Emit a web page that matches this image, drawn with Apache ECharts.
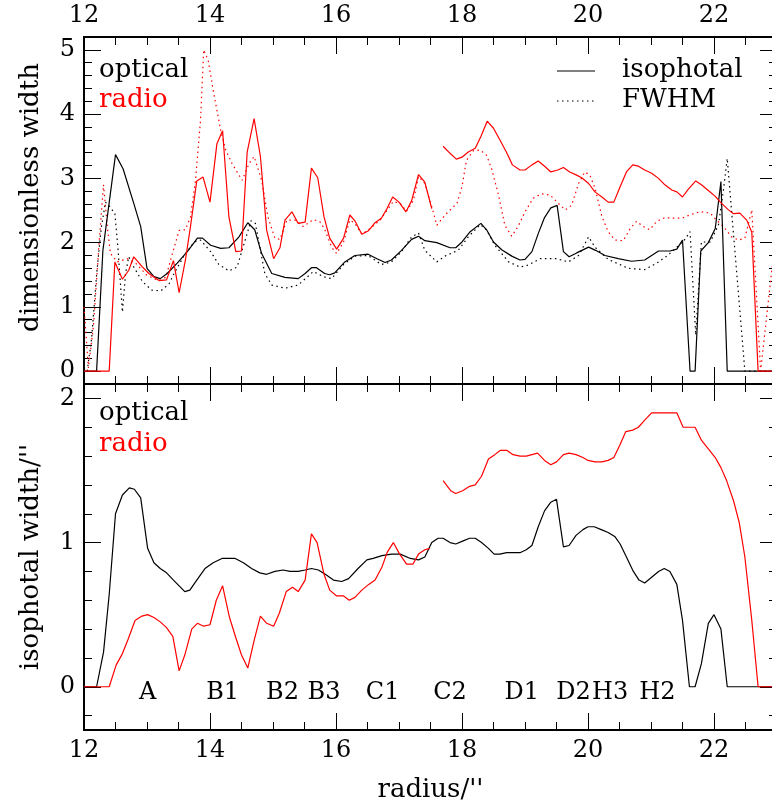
<!DOCTYPE html>
<html>
<head>
<meta charset="utf-8">
<script src="https://cdn.jsdelivr.net/npm/echarts@6/dist/echarts.min.js"></script>
<style>
  html, body { margin: 0; padding: 0; background: #fff; overflow: hidden; }
  #chart { width: 772px; height: 806px; }
</style>
</head>
<body>
<div id="chart"></div>
<script>
// Radial profiles of jet width: optical vs radio, isophotal vs FWHM.
// Each series is a list of [radius (arcsec), width] pairs.

// Upper panel: dimensionless width
const opticalIsophotal = [
  [12.0,0],[12.2,0],[12.3,1.88],[12.5,3.37],[12.62,3.15],[12.79,2.61],[12.9,2.25],[13.0,1.6],[13.11,1.47],[13.21,1.44],
  [13.32,1.52],[13.48,1.68],[13.64,1.86],[13.8,2.07],[13.88,2.07],[14.01,1.96],[14.17,1.91],[14.3,1.92],[14.46,2.09],[14.6,2.31],
  [14.71,2.2],[14.82,1.83],[14.98,1.52],[15.19,1.46],[15.4,1.44],[15.51,1.52],[15.61,1.61],[15.69,1.61],[15.82,1.52],[15.9,1.5],
  [15.98,1.53],[16.14,1.7],[16.3,1.8],[16.51,1.82],[16.65,1.75],[16.78,1.69],[16.88,1.73],[17.04,1.88],[17.2,2.05],[17.31,2.1],
  [17.41,2.03],[17.6,2.0],[17.81,1.92],[17.9,1.92],[18.0,2.01],[18.13,2.17],[18.3,2.3],[18.39,2.2],[18.5,2.01],[18.63,1.89],
  [18.79,1.79],[18.92,1.73],[19.0,1.74],[19.11,1.86],[19.21,2.14],[19.31,2.39],[19.41,2.54],[19.51,2.58],[19.61,1.86],[19.7,1.78],
  [19.82,1.84],[20.01,1.93],[20.12,1.88],[20.27,1.8],[20.48,1.75],[20.69,1.71],[20.9,1.73],[21.01,1.8],[21.12,1.87],[21.3,1.87],
  [21.41,1.9],[21.5,2.04],[21.62,0],[21.7,0],[21.79,1.87],[21.91,2.0],[22.02,2.22],[22.11,2.95],[22.21,0],[23.0,0]
];
const opticalFwhm = [
  [12.05,0],[12.12,0.5],[12.2,1.5],[12.27,2.2],[12.34,2.63],[12.41,2.56],[12.49,2.45],[12.54,1.9],[12.61,0.92],[12.66,1.52],
  [12.71,1.78],[12.79,1.62],[12.93,1.39],[13.08,1.26],[13.22,1.25],[13.35,1.36],[13.43,1.52],[13.59,1.8],[13.75,2.01],[13.85,2.04],
  [14.01,1.86],[14.14,1.66],[14.3,1.56],[14.43,1.62],[14.54,1.98],[14.65,2.34],[14.72,2.3],[14.87,1.52],[14.98,1.34],[15.19,1.29],
  [15.4,1.34],[15.64,1.55],[15.8,1.47],[15.93,1.44],[16.12,1.66],[16.3,1.79],[16.51,1.8],[16.72,1.66],[16.88,1.7],[17.04,1.86],
  [17.2,2.09],[17.31,2.15],[17.41,1.88],[17.6,1.7],[17.73,1.79],[17.94,1.88],[18.1,2.09],[18.29,2.28],[18.39,2.2],[18.52,1.96],
  [18.74,1.7],[18.92,1.62],[19.05,1.65],[19.24,1.75],[19.5,1.75],[19.69,1.7],[19.85,1.8],[20.01,2.09],[20.11,1.93],[20.32,1.74],
  [20.64,1.6],[20.9,1.58],[21.09,1.68],[21.25,1.79],[21.38,1.9],[21.53,2.04],[21.62,2.17],[21.71,0.56],[21.8,2.01],[21.94,2.01],
  [22.07,2.27],[22.15,2.82],[22.21,3.31],[22.49,0],[23.0,0]
];
const radioIsophotal = [
  [12.0,0],[12.4,0],[12.49,1.7],[12.61,1.43],[12.71,1.57],[12.79,1.78],[12.93,1.62],[13.03,1.52],[13.19,1.41],[13.31,1.42],
  [13.42,1.72],[13.51,1.22],[13.61,1.73],[13.69,2.25],[13.79,2.96],[13.89,3.02],[14.0,2.63],[14.11,3.54],[14.2,3.74],[14.3,2.4],
  [14.41,1.86],[14.5,1.87],[14.59,3.41],[14.7,3.93],[14.8,3.34],[14.9,2.19],[15.01,1.75],[15.11,1.92],[15.19,2.35],[15.3,2.48],
  [15.4,2.3],[15.51,2.32],[15.61,3.16],[15.71,3.01],[15.81,2.4],[15.9,2.07],[16.01,1.9],[16.12,2.07],[16.22,2.43],[16.3,2.34],
  [16.41,2.13],[16.51,2.18],[16.62,2.31],[16.72,2.38],[16.81,2.53],[16.9,2.71],[17.0,2.63],[17.11,2.48],[17.2,2.65],[17.31,3.06],
  [17.41,2.94],[17.52,2.53],[17.6,null],[17.7,3.5],[17.81,3.39],[17.91,3.3],[18.0,3.33],[18.1,3.41],[18.21,3.47],[18.3,3.65],
  [18.4,3.89],[18.5,3.78],[18.6,3.6],[18.71,3.4],[18.8,3.21],[18.92,3.13],[19.0,3.13],[19.11,3.21],[19.21,3.27],[19.32,3.18],
  [19.41,3.1],[19.52,3.13],[19.61,3.17],[19.71,3.1],[19.82,3.05],[19.9,3.01],[20.01,2.92],[20.11,2.79],[20.22,2.71],[20.32,2.63],
  [20.41,2.63],[20.51,2.87],[20.61,3.1],[20.71,3.21],[20.8,3.19],[20.9,3.13],[21.01,3.08],[21.12,3.0],[21.22,2.9],[21.33,2.82],
  [21.41,2.79],[21.5,2.71],[21.59,2.83],[21.71,2.96],[21.8,2.9],[21.91,2.81],[22.02,2.72],[22.12,2.61],[22.23,2.51],[22.31,2.45],
  [22.41,2.46],[22.52,2.35],[22.6,2.16],[22.7,0],[23.0,0]
];
const radioFwhm = [
  [12.0,1.0],[12.07,0.05],[12.15,0.7],[12.24,2.0],[12.31,2.9],[12.37,2.25],[12.42,1.83],[12.53,1.7],[12.69,1.75],[12.82,1.68],
  [13.0,1.49],[13.16,1.42],[13.3,1.46],[13.38,1.75],[13.51,2.19],[13.61,2.2],[13.69,2.4],[13.77,2.97],[13.85,3.91],[13.9,5.0],
  [13.97,4.84],[14.06,4.32],[14.17,3.75],[14.25,3.44],[14.35,3.23],[14.51,2.97],[14.62,3.23],[14.7,3.34],[14.82,2.97],[14.92,2.4],
  [15.03,2.07],[15.11,2.05],[15.22,2.35],[15.35,2.35],[15.48,2.25],[15.64,2.36],[15.75,2.32],[15.82,2.21],[15.93,1.93],[16.01,1.83],
  [16.12,2.01],[16.22,2.35],[16.3,2.3],[16.41,2.13],[16.54,2.22],[16.7,2.35],[16.8,2.49],[16.91,2.64],[17.02,2.61],[17.12,2.49],
  [17.23,2.66],[17.31,3.03],[17.41,2.92],[17.52,2.56],[17.6,2.27],[17.73,2.43],[17.92,2.61],[18.0,2.87],[18.07,3.28],[18.18,3.43],
  [18.29,3.44],[18.39,3.36],[18.47,3.15],[18.58,2.74],[18.68,2.27],[18.79,2.1],[18.89,2.25],[19.0,2.48],[19.13,2.69],[19.26,2.76],
  [19.4,2.74],[19.53,2.61],[19.64,2.51],[19.74,2.58],[19.85,2.92],[19.95,3.1],[20.03,3.05],[20.11,2.85],[20.22,2.41],[20.32,2.17],
  [20.43,2.04],[20.56,2.03],[20.67,2.22],[20.77,2.33],[20.88,2.25],[20.98,2.2],[21.09,2.33],[21.22,2.39],[21.35,2.38],[21.49,2.38],
  [21.59,2.42],[21.7,2.46],[21.8,2.48],[21.94,2.46],[22.04,2.35],[22.15,2.25],[22.28,2.09],[22.39,2.04],[22.49,2.07],[22.6,2.51],
  [22.74,0],[22.92,1.6],[23.0,2.0]
];

// Lower panel: isophotal width in arcsec
const opticalWidth = [
  [12.0,0],[12.2,0],[12.31,0.24],[12.4,0.64],[12.5,1.2],[12.61,1.33],[12.72,1.38],[12.8,1.37],[12.9,1.31],[13.01,0.96],
  [13.11,0.86],[13.21,0.82],[13.31,0.79],[13.42,0.74],[13.51,0.7],[13.6,0.66],[13.68,0.67],[13.79,0.74],[13.92,0.82],[14.05,0.86],
  [14.19,0.89],[14.4,0.89],[14.53,0.86],[14.66,0.82],[14.79,0.79],[14.9,0.78],[15.03,0.8],[15.16,0.81],[15.27,0.8],[15.4,0.8],
  [15.51,0.81],[15.61,0.82],[15.72,0.81],[15.83,0.78],[15.96,0.74],[16.09,0.73],[16.2,0.75],[16.35,0.82],[16.49,0.88],[16.59,0.89],
  [16.73,0.91],[16.88,0.92],[17.02,0.92],[17.18,0.89],[17.31,0.88],[17.41,0.9],[17.52,1.0],[17.62,1.03],[17.7,1.03],[17.81,1.0],
  [17.9,0.99],[18.01,1.01],[18.12,1.03],[18.21,1.03],[18.31,1.0],[18.42,0.96],[18.51,0.92],[18.6,0.92],[18.71,0.93],[18.81,0.93],
  [18.92,0.93],[19.02,0.95],[19.11,0.98],[19.21,1.11],[19.31,1.22],[19.41,1.28],[19.5,1.3],[19.61,0.97],[19.7,0.98],[19.81,1.05],
  [19.92,1.09],[20.0,1.11],[20.1,1.11],[20.21,1.09],[20.32,1.07],[20.43,1.04],[20.51,0.99],[20.61,0.9],[20.72,0.8],[20.81,0.74],
  [20.9,0.72],[21.01,0.76],[21.12,0.8],[21.21,0.82],[21.3,0.8],[21.41,0.71],[21.5,0.46],[21.61,0],[21.7,0],[21.8,0.16],
  [21.91,0.44],[22.0,0.5],[22.11,0.4],[22.21,0],[23.0,0]
];
const radioWidth = [
  [12.0,0],[12.4,0],[12.51,0.15],[12.61,0.23],[12.7,0.33],[12.81,0.46],[12.92,0.49],[13.01,0.5],[13.11,0.48],[13.21,0.45],
  [13.31,0.41],[13.41,0.35],[13.51,0.11],[13.6,0.22],[13.71,0.4],[13.8,0.44],[13.9,0.42],[14.0,0.43],[14.1,0.6],[14.2,0.7],
  [14.31,0.48],[14.41,0.34],[14.5,0.22],[14.6,0.13],[14.7,0.32],[14.8,0.49],[14.9,0.44],[15.01,0.42],[15.1,0.51],[15.21,0.66],
  [15.31,0.69],[15.4,0.66],[15.51,0.74],[15.61,1.06],[15.7,1.0],[15.81,0.78],[15.9,0.67],[16.01,0.63],[16.12,0.63],[16.21,0.6],
  [16.3,0.62],[16.41,0.67],[16.52,0.71],[16.62,0.74],[16.73,0.83],[16.81,0.93],[16.91,1.0],[17.01,0.92],[17.12,0.85],[17.22,0.85],
  [17.31,0.92],[17.41,0.95],[17.49,0.96],[17.6,null],[17.7,1.43],[17.82,1.36],[17.9,1.34],[18.01,1.36],[18.12,1.39],[18.21,1.4],
  [18.31,1.46],[18.42,1.58],[18.52,1.61],[18.61,1.64],[18.71,1.64],[18.81,1.61],[18.92,1.6],[19.02,1.6],[19.11,1.61],[19.2,1.62],
  [19.31,1.57],[19.41,1.54],[19.5,1.56],[19.61,1.61],[19.7,1.62],[19.81,1.61],[19.92,1.59],[20.0,1.57],[20.11,1.56],[20.22,1.56],
  [20.32,1.57],[20.41,1.59],[20.51,1.68],[20.6,1.77],[20.71,1.78],[20.8,1.8],[20.9,1.85],[21.01,1.9],[21.41,1.9],[21.51,1.8],
  [21.7,1.8],[21.8,1.71],[21.91,1.65],[22.02,1.59],[22.11,1.52],[22.2,1.43],[22.31,1.29],[22.4,1.14],[22.49,0.9],[22.6,0.46],
  [22.7,0],[23.0,0]
];

// Knot names and their radii
const knotNames = ['A','B1','B2','B3','C1','C2','D1','D2','H3','H2'];
const knotRadii = [13.01,14.2,15.15,15.81,16.74,17.81,18.95,19.77,20.35,21.1];

// Tick values
const xMajorTicks = [12,14,16,18,20,22];
const xMinorTicks = [12.5,13,13.5,14.5,15,15.5,16.5,17,17.5,18.5,19,19.5,20.5,21,21.5,22.5];
const yTopMajorTicks = [0,1,2,3,4,5];
const yBottomMajorTicks = [0,1,2];

function minorSteps(lo, hi, majors) {
  const out = [];
  for (let k = Math.round(lo * 5); k <= Math.round(hi * 5); k++) {
    const v = k / 5;
    if (!majors.includes(v)) out.push(v);
  }
  return out;
}
const yTopMinorTicks = minorSteps(-0.2, 5.2, yTopMajorTicks);
const yBottomMinorTicks = minorSteps(-0.2, 2.0, yBottomMajorTicks);

const FONT = '"DejaVu Serif", "Liberation Serif", serif';
const BLACK = '#000000';
const RED = '#ff0000';
const MAJOR_LEN = 17, MINOR_LEN = 8;
const KNOT_LABEL_Y = -0.04;

function xAxis(grid, position, ticks, len, labels, extra) {
  return Object.assign({
    type: 'value', gridIndex: grid, position: position, min: 12, max: 23,
    axisLine: { show: true, onZero: false, lineStyle: { color: BLACK, width: 2 } },
    axisTick: { show: true, inside: true, length: len, customValues: ticks, lineStyle: { color: BLACK, width: 1 } },
    axisLabel: labels ? { show: true, customValues: labels, color: BLACK, fontFamily: FONT, fontSize: 24, margin: 9 } : { show: false },
    splitLine: { show: false }
  }, extra || {});
}
function yAxis(grid, position, min, max, ticks, len, labels, extra) {
  return Object.assign({
    type: 'value', gridIndex: grid, position: position, min: min, max: max,
    axisLine: { show: true, onZero: false, lineStyle: { color: BLACK, width: 2 } },
    axisTick: { show: true, inside: true, length: len, customValues: ticks, lineStyle: { color: BLACK, width: 1 } },
    axisLabel: labels ? { show: true, customValues: labels, color: BLACK, fontFamily: FONT, fontSize: 24, margin: 9 } : { show: false },
    splitLine: { show: false }
  }, extra || {});
}

const nameStyle = { color: BLACK, fontFamily: FONT, fontSize: 26 };

const lineSeries = (data, color, dotted, xi, yi) => ({
  type: 'line', data: data, xAxisIndex: xi, yAxisIndex: yi,
  showSymbol: false, symbol: 'none', connectNulls: false, animation: false,
  lineStyle: { color: color, width: 1.2, type: dotted ? [1.5, 3.5] : 'solid' },
  z: dotted ? 2 : 3
});

const chart = echarts.init(document.getElementById('chart'), null, { renderer: 'canvas' });
chart.setOption({
  backgroundColor: '#ffffff',
  animation: false,
  grid: [
    { left: 84, top: 37, width: 693, height: 347, containLabel: false, outerBoundsMode: 'none' },
    { left: 84, top: 384, width: 693, height: 346, containLabel: false, outerBoundsMode: 'none' }
  ],
  xAxis: [
    xAxis(0, 'bottom', xMajorTicks, MAJOR_LEN, null),
    xAxis(0, 'bottom', xMinorTicks, MINOR_LEN, null),
    xAxis(0, 'top', xMajorTicks, MAJOR_LEN, xMajorTicks),
    xAxis(0, 'top', xMinorTicks, MINOR_LEN, null),
    xAxis(1, 'bottom', xMajorTicks, MAJOR_LEN, xMajorTicks, {
      name: "radius/''", nameLocation: 'middle', nameGap: 47, nameTextStyle: nameStyle
    }),
    xAxis(1, 'bottom', xMinorTicks, MINOR_LEN, null),
    xAxis(1, 'top', xMajorTicks, MAJOR_LEN, null),
    xAxis(1, 'top', xMinorTicks, MINOR_LEN, null)
  ],
  yAxis: [
    yAxis(0, 'left', -0.2, 5.2, yTopMajorTicks, MAJOR_LEN, yTopMajorTicks, {
      name: 'dimensionless width', nameLocation: 'middle', nameGap: 40,
      nameTextStyle: Object.assign({ padding: [0, 0, 0, 26] }, nameStyle)
    }),
    yAxis(0, 'left', -0.2, 5.2, yTopMinorTicks, MINOR_LEN, null),
    yAxis(0, 'right', -0.2, 5.2, yTopMajorTicks, MAJOR_LEN, null),
    yAxis(0, 'right', -0.2, 5.2, yTopMinorTicks, MINOR_LEN, null),
    yAxis(1, 'left', -0.3, 2.1, yBottomMajorTicks, MAJOR_LEN, yBottomMajorTicks, {
      name: "isophotal width/''", nameLocation: 'middle', nameGap: 40,
      nameTextStyle: nameStyle
    }),
    yAxis(1, 'left', -0.3, 2.1, yBottomMinorTicks, MINOR_LEN, null),
    yAxis(1, 'right', -0.3, 2.1, yBottomMajorTicks, MAJOR_LEN, null),
    yAxis(1, 'right', -0.3, 2.1, yBottomMinorTicks, MINOR_LEN, null)
  ],
  series: [
    lineSeries(opticalFwhm, BLACK, true, 0, 0),
    lineSeries(radioFwhm, RED, true, 0, 0),
    lineSeries(opticalIsophotal, BLACK, false, 0, 0),
    lineSeries(radioIsophotal, RED, false, 0, 0),
    lineSeries(opticalWidth, BLACK, false, 4, 4),
    lineSeries(radioWidth, RED, false, 4, 4),
    {
      type: 'scatter', xAxisIndex: 4, yAxisIndex: 4, symbolSize: 1, silent: true,
      itemStyle: { color: 'rgba(0,0,0,0)' },
      data: knotNames.map((n, i) => ({ name: n, value: [knotRadii[i], KNOT_LABEL_Y] })),
      label: {
        show: true, position: 'inside', formatter: p => p.name,
        color: BLACK, fontFamily: FONT, fontSize: 24, opacity: 1
      },
      emphasis: { disabled: true }
    }
  ],
  graphic: [
    { type: 'text', x: 99, y: 70, style: { text: 'optical', fill: BLACK, fontFamily: FONT, fontSize: 26, align: 'left', verticalAlign: 'middle' } },
    { type: 'text', x: 99, y: 100, style: { text: 'radio', fill: RED, fontFamily: FONT, fontSize: 26, align: 'left', verticalAlign: 'middle' } },
    { type: 'line', shape: { x1: 557, y1: 71, x2: 595, y2: 71 }, style: { stroke: BLACK, lineWidth: 1.2 } },
    { type: 'line', shape: { x1: 557, y1: 101, x2: 595, y2: 101 }, style: { stroke: BLACK, lineWidth: 1.2, lineDash: [1.5, 3.5] } },
    { type: 'text', x: 622, y: 70, style: { text: 'isophotal', fill: BLACK, fontFamily: FONT, fontSize: 26, align: 'left', verticalAlign: 'middle' } },
    { type: 'text', x: 622, y: 100, style: { text: 'FWHM', fill: BLACK, fontFamily: FONT, fontSize: 26, align: 'left', verticalAlign: 'middle' } },
    { type: 'text', x: 99, y: 413, style: { text: 'optical', fill: BLACK, fontFamily: FONT, fontSize: 26, align: 'left', verticalAlign: 'middle' } },
    { type: 'text', x: 99, y: 444, style: { text: 'radio', fill: RED, fontFamily: FONT, fontSize: 26, align: 'left', verticalAlign: 'middle' } }
  ]
});
</script>
</body>
</html>
